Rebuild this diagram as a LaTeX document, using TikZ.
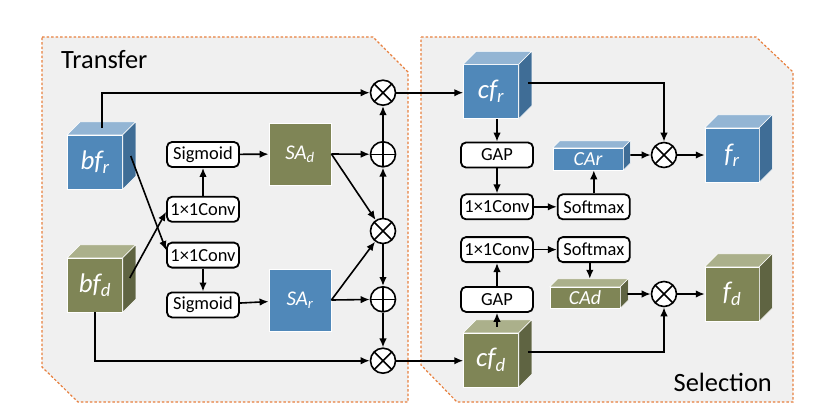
\documentclass[tikz,border=0pt]{standalone}
\usepackage{fontspec}
\setmainfont{Carlito}
\usepackage{xcolor}
\usepackage{tikz}
\usetikzlibrary{arrows.meta}
\usetikzlibrary{shapes,positioning}
\definecolor{blueFront}{HTML}{5088B9}
\definecolor{blueTop}{HTML}{93B5D4}
\definecolor{blueSide}{HTML}{3F6D96}
\definecolor{greenFront}{HTML}{7F8556}
\definecolor{greenTop}{HTML}{ABB08B}
\definecolor{greenSide}{HTML}{5F6442}
\definecolor{panelGray}{HTML}{F0F0F0}
\definecolor{panelOrange}{HTML}{E8803E}
\tikzset{>={Latex[length=9bp, width=7.5bp]}}
\tikzset{flow-line/.style={line width=1.6bp}}
\tikzset{panel/.style={fill=panelGray, draw=panelOrange, line width=1.2bp, dash pattern=on 2.5bp off 2bp}}
\tikzset{panel-title/.style={font=\fontsize{26.5}{30}\selectfont, inner sep=0}}
\tikzset{conv-box/.style={draw, fill=white, rounded corners=5bp, line width=1.8bp, minimum width=72bp, minimum height=25bp, inner sep=0, font=\fontsize{18.5}{20}\selectfont}}
\tikzset{map-node/.style={draw=white, line width=0.8bp, minimum width=62bp, minimum height=62bp, inner sep=0, text=white, font=\itshape\fontsize{21}{24}\selectfont}}
\tikzset{cube-face/.style={draw=white, line width=0.5bp, inner sep=0, text=white, font=\itshape\fontsize{27}{30}\selectfont}}
\tikzset{small-label/.style={font=\itshape\fontsize{20}{22}\selectfont}}
\tikzset{op-node/.style={draw, circle, fill=white, line width=1.6bp, minimum size=25bp, inner sep=0}}
\tikzset{mul-node/.style={op-node, path picture={
    \draw[line width=1.6bp] (path picture bounding box.north west) -- (path picture bounding box.south east)
        (path picture bounding box.north east) -- (path picture bounding box.south west);}}}
\tikzset{add-node/.style={op-node, path picture={
    \draw[line width=1.6bp] (path picture bounding box.north) -- (path picture bounding box.south)
        (path picture bounding box.west) -- (path picture bounding box.east);}}}
\newcommand{\featcube}[8] {
    \node[cube-face, fill=#6Front, minimum width=#3, minimum height=#4, #8] (#1) at #2 {#7};
    \filldraw[fill=#6Top, draw=white, line width=0.5bp] (#1.north west) -- ++(#5,-#5)
        -- ([shift={(#5,-#5)}]#1.north east) -- (#1.north east) -- cycle;
    \filldraw[fill=#6Side, draw=white, line width=0.5bp] (#1.north east) -- ++(#5,-#5)
        -- ([shift={(#5,-#5)}]#1.south east) -- (#1.south east) -- cycle;
}
\begin{document}
\begin{tikzpicture}[x=1bp, y=-1bp]
    \useasboundingbox (0,0) rectangle (818,417);
    % panels
    \draw[panel] (42,37) -- (373,37) -- (408,72) -- (408,402) -- (78,402) -- (42,367) -- cycle;
    \draw[panel] (421,37) -- (756,37) -- (793,72) -- (793,402) -- (457,402) -- (421,365) -- cycle;
    \node[panel-title, anchor=base west] (transfer) at (61,68) {Transfer};
    \node[panel-title, anchor=base east] (selection) at (772,391) {Selection};

    \featcube{bfr}{(95,162)}{55bp}{54bp}{13}{blue}{bf\textsubscript{r}}{}
    \featcube{bfd}{(95,285)}{55bp}{54bp}{13}{green}{bf\textsubscript{d}}{}
    \featcube{cfr}{(491,91.5)}{55bp}{54bp}{13}{blue}{cf\textsubscript{r}}{}
    \featcube{cfd}{(491,360)}{55bp}{54bp}{13}{green}{cf\textsubscript{d}}{}
    \featcube{car}{(588,159)}{70bp}{22bp}{7}{blue}{CAr}{small-label}
    \featcube{cad}{(585,297.5)}{70bp}{21bp}{8}{green}{CAd}{small-label}
    \featcube{fr}{(732,155)}{54bp}{54bp}{13}{blue}{f\textsubscript{r}}{}
    \featcube{fd}{(732,294)}{54bp}{54bp}{13}{green}{f\textsubscript{d}}{}

    \node[conv-box] (sig1) at (203,154.5) {Sigmoid};
    \node[conv-box, below=28bp of sig1] (conv1) {1×1Conv};
    \node[conv-box, below=19bp of conv1] (conv2) {1×1Conv};
    \node[conv-box, below=23bp of conv2] (sig2) {Sigmoid};
    \node[map-node, fill=greenFront] (sad) at (300,154) {SA\textsubscript{d}};
    \node[map-node, fill=blueFront] (sar) at (300,300) {SA\textsubscript{r}};

    \node[mul-node] (mul1) at (383,92.7) {};
    \node[add-node] (add1) at (383,154.3) {};
    \node[mul-node] (mul2) at (383,231) {};
    \node[add-node] (add2) at (383,299.3) {};
    \node[mul-node] (mul3) at (383,360.7) {};

    \node[conv-box] (gap1) at (497,155) {GAP};
    \node[conv-box, below=25bp of gap1] (conv3) {1×1Conv};
    \node[conv-box, right=23bp of conv3] (soft1) {Softmax};
    \node[conv-box, below=16bp of conv3] (conv4) {1×1Conv};
    \node[conv-box, right=23bp of conv4] (soft2) {Softmax};
    \node[conv-box, below=23bp of conv4] (gap2) {GAP};
    \node[mul-node] (mul4) at (664,155) {};
    \node[mul-node] (mul5) at (664,294) {};

    \coordinate (cfdtop) at ([yshift=6bp]cfd.north);
    \coordinate (cadtop) at ([yshift=8bp]cad.north);

    \draw[->, flow-line] ([xshift=7bp, yshift=7bp]bfr.north) |- (mul1);
    \draw[->, flow-line] ([xshift=8bp, yshift=6bp]bfr.east) -- ([yshift=5bp]conv2.west);
    \draw[->, flow-line] ([xshift=7bp, yshift=7bp]bfd.east) -- ([yshift=-2.5bp]conv1.west);
    \draw[->, flow-line] (conv1) -- (sig1);
    \draw[->, flow-line] (conv2) -- (sig2);
    \draw[->, flow-line] (sig1) -- (sad);
    \draw[->, flow-line] (sig2) -- (sar);
    \draw[->, flow-line] (sad.east) -- (add1);
    \draw[->, flow-line] (sad.east) -- (mul2);
    \draw[->, flow-line] (sar.east) -- (add2);
    \draw[->, flow-line] (sar.east) -- (mul2);
    \draw[->, flow-line] (mul2) -- (add1);
    \draw[->, flow-line] (add1) -- (mul1);
    \draw[->, flow-line] (mul2) -- (add2);
    \draw[->, flow-line] (add2) -- (mul3);
    \draw[->, flow-line] (bfd.south) |- (mul3);
    \draw[->, flow-line] (mul1) -- (cfr.west |- mul1);
    \draw[->, flow-line] (mul3) -- (cfd.west |- mul3);

    \draw[->, flow-line] (gap1.north |- cfr.south) -- (gap1);
    \draw[->, flow-line] (gap1) -- (conv3);
    \draw[->, flow-line] (conv3) -- (soft1);
    \draw[->, flow-line] (soft1.north) -- (soft1.north |- car.south);
    \draw[->, flow-line] ([xshift=9bp, yshift=8.5bp]cfr.east) -| (mul4);
    \draw[->, flow-line] ([xshift=7bp, yshift=4bp]car.east) -- (mul4);
    \draw[->, flow-line] (mul4) -- (fr.west |- mul4);

    \draw[->, flow-line] (cfdtop -| gap2.south) -- (gap2);
    \draw[->, flow-line] (gap2) -- (conv4);
    \draw[->, flow-line] (conv4) -- (soft2);
    \draw[->, flow-line] ([xshift=-4bp]soft2.south) -- ([xshift=-4bp]soft2.south |- cadtop);
    \draw[->, flow-line] ([xshift=7bp, yshift=3.5bp]cad.east) -- (mul5);
    \draw[->, flow-line] (mul5) -- (fd.west |- mul5);
    \draw[->, flow-line] ([xshift=9bp, yshift=8bp]cfd.east) -| (mul5);
\end{tikzpicture}
\end{document}
